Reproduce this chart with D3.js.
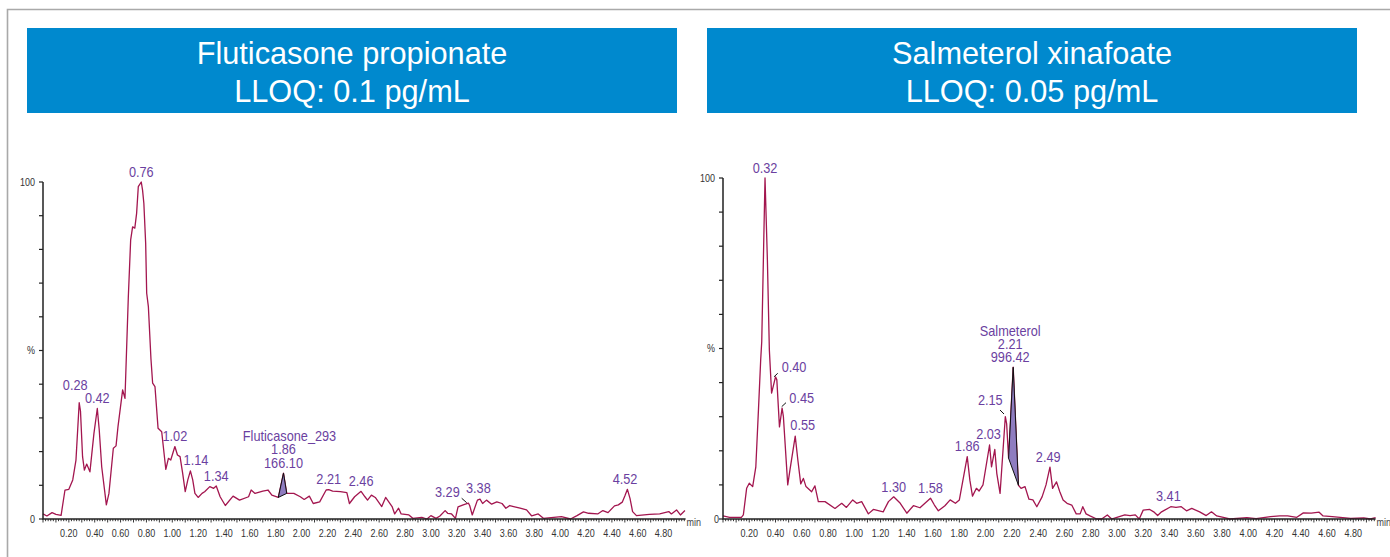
<!DOCTYPE html>
<html>
<head>
<meta charset="utf-8">
<script src="https://cdn.jsdelivr.net/npm/d3@7"></script>
<style>
  body { margin: 0; background: #fff; }
  svg { display: block; }
  text { font-family: "Liberation Sans", Arial, Helvetica, sans-serif; }
</style>
</head>
<body>
<svg id="chart" width="1390" height="557"></svg>
<script>
// ---- Chromatogram data (retention time in min, relative intensity in %) ----
const fluTimes = [0.00,0.03,0.07,0.10,0.14,0.17,0.20,0.23,0.255,0.28,0.29,0.306,0.32,0.338,0.363,0.394,0.42,0.435,0.454,0.49,0.51,0.544,0.565,0.58,0.616,0.634,0.66,0.678,0.693,0.71,0.724,0.737,0.76,0.77,0.78,0.794,0.802,0.815,0.835,0.848,0.866,0.89,0.918,0.95,0.97,0.988,1.02,1.04,1.06,1.08,1.10,1.12,1.14,1.158,1.175,1.20,1.23,1.25,1.29,1.32,1.34,1.37,1.41,1.47,1.52,1.59,1.61,1.64,1.70,1.74,1.77,1.82,1.86,1.885,1.94,1.99,2.02,2.06,2.09,2.14,2.19,2.21,2.24,2.30,2.35,2.37,2.41,2.46,2.49,2.51,2.54,2.57,2.62,2.65,2.70,2.72,2.75,2.77,2.83,2.86,2.93,2.97,3.00,3.04,3.07,3.11,3.13,3.16,3.19,3.21,3.25,3.29,3.30,3.32,3.36,3.38,3.40,3.43,3.47,3.51,3.55,3.58,3.61,3.64,3.69,3.74,3.78,3.83,3.87,3.95,4.01,4.08,4.13,4.18,4.22,4.29,4.33,4.37,4.42,4.45,4.48,4.50,4.52,4.54,4.56,4.59,4.69,4.77,4.84,4.86,4.90,4.93,4.965];
const fluPercents = [1.5,0.9,1.9,1.4,1.1,8.6,8.8,11.6,17.5,34.5,32.0,18.5,14.5,16.3,14.0,25.4,32.8,26.4,15.5,4.2,7.6,21.0,21.7,27.4,38.3,35.8,66.0,82.8,86.7,86.3,90.7,98.6,100,97.6,93.7,81.9,67.0,63.0,47.5,40.3,39.3,26.9,25.9,14.7,18.0,17.5,21.5,19.0,18.5,13.6,8.1,11.6,14.3,11.6,7.6,6.4,7.6,8.1,9.6,9.1,9.8,6.6,4.0,6.8,5.6,6.6,8.6,7.6,8.3,8.6,7.1,6.4,13.6,7.6,7.6,6.6,5.8,6.8,4.6,5.1,8.6,8.7,8.3,8.1,7.8,4.6,6.6,8.2,6.6,5.6,7.1,6.4,3.7,6.4,3.7,1.5,3.2,1.5,1.2,0.2,0.5,0.0,1.0,0.2,0.9,2.5,1.7,1.5,0.2,3.6,4.2,4.7,4.0,1.2,5.6,5.9,4.6,5.6,4.4,5.1,4.6,3.2,4.0,3.7,3.2,2.7,0.9,1.5,0.2,0.5,0.7,0.0,1.0,2.1,1.7,1.5,2.5,1.9,3.9,4.2,5.0,6.8,8.8,6.1,2.2,1.0,1.4,1.5,2.2,1.5,2.7,1.2,2.5];

const salTimes = [0.00,0.05,0.14,0.155,0.18,0.20,0.226,0.25,0.27,0.287,0.295,0.32,0.338,0.353,0.37,0.40,0.41,0.43,0.45,0.46,0.493,0.51,0.55,0.57,0.592,0.612,0.632,0.675,0.70,0.726,0.777,0.853,0.904,0.94,0.988,1.018,1.056,1.107,1.145,1.22,1.26,1.30,1.35,1.40,1.45,1.50,1.58,1.61,1.64,1.69,1.73,1.77,1.80,1.86,1.88,1.90,1.93,1.95,1.98,2.03,2.045,2.07,2.085,2.11,2.15,2.16,2.175,2.21,2.25,2.27,2.30,2.33,2.36,2.39,2.43,2.46,2.49,2.51,2.54,2.565,2.59,2.62,2.656,2.69,2.72,2.74,2.765,2.795,2.846,2.884,2.927,2.96,3.00,3.06,3.10,3.14,3.17,3.20,3.25,3.28,3.31,3.34,3.41,3.45,3.49,3.53,3.57,3.63,3.68,3.72,3.76,3.81,3.86,3.99,4.06,4.17,4.24,4.30,4.37,4.42,4.48,4.54,4.57,4.64,4.70,4.78,4.88,4.93,4.97];
const salPercents = [0.9,0.5,0.5,1.2,9.0,10.5,9.5,15.3,32.0,46.6,52.0,100,76.0,49.6,36.9,41.7,40.8,27.0,32.5,30.0,10.0,14.4,24.3,17.3,10.3,11.9,9.5,8.0,9.7,5.1,5.1,3.1,4.6,3.4,5.6,4.6,5.1,1.5,2.8,2.1,5.1,6.5,4.6,1.7,3.9,3.3,6.1,4.1,2.4,3.9,5.6,4.6,5.6,18.3,11.4,6.7,9.0,8.2,10.0,21.7,15.3,20.4,13.4,7.5,30.0,28.0,17.8,44.5,9.9,9.0,9.5,5.8,5.6,3.6,6.5,10.0,15.2,9.0,10.9,8.0,5.6,4.6,4.1,1.5,1.5,3.6,1.5,0.9,0.0,0.0,1.2,0.0,0.5,1.2,1.0,1.2,0.0,2.6,2.8,2.1,1.0,2.1,3.6,3.4,3.6,2.4,3.1,2.1,1.0,2.1,0.9,0.5,0.0,0.4,0.1,0.7,0.9,0.9,0.5,1.8,1.7,2.0,0.9,0.7,0.5,0.2,0.3,0.0,0.4];

// Peak annotations
const fluPeakTimes = [0.28, 0.42, 0.76, 1.02, 1.14, 1.34, 1.86, 2.21, 2.46, 3.29, 3.38, 4.52];
const fluPeakTexts = [["0.28"],["0.42"],["0.76"],["1.02"],["1.14"],["1.34"],["Fluticasone_293","1.86","166.10"],["2.21"],["2.46"],["3.29"],["3.38"],["4.52"]];
const salPeakTimes = [0.32, 0.40, 0.45, 0.55, 1.30, 1.58, 1.86, 2.03, 2.15, 2.21, 2.49, 3.41];
const salPeakTexts = [["0.32"],["0.40"],["0.45"],["0.55"],["1.30"],["1.58"],["1.86"],["2.03"],["2.15"],["Salmeterol","2.21","996.42"],["2.49"],["3.41"]];

// Integrated peak windows (min)
const fluIntegration = [1.82, 1.885];
const salIntegration = [2.175, 2.25];

// Axis labelling
const timeRange = [0, 4.97];
const xTickLabels = ["0.20","0.40","0.60","0.80","1.00","1.20","1.40","1.60","1.80","2.00","2.20","2.40","2.60","2.80","3.00","3.20","3.40","3.60","3.80","4.00","4.20","4.40","4.60","4.80"];
const yTickValues = [0, 50, 100];
const yTickLabels = ["0", "%", "100"];
const xUnit = "min";

const panelTitles = [
  ["Fluticasone propionate", "LLOQ: 0.1 pg/mL"],
  ["Salmeterol xinafoate", "LLOQ: 0.05 pg/mL"]
];

// ---- Layout ----
const TRACE = "#a3164f";
const LABEL = "#6b3fa0";
const AXIS = "#222";
const BOX = "#0089ce";
const SX = 0.9;                 // horizontal text condensation

const panels = [
  {
    titles: panelTitles[0], times: fluTimes, pct: fluPercents,
    peakTimes: fluPeakTimes, peakTexts: fluPeakTexts, integ: fluIntegration,
    box: { x: 27, y: 28, w: 650, h: 85 },
    plot: { x0: 43, x1: 685.6, top: 182, bottom: 519 },
    zeroGap: 8,
    nudges: {
      0: { dx: -4, dy: -12.7 },
      4: { dx: 5.6, dy: -5.8 },
      6: { dx: 0, dy: -5.5, lineDx: [6, 0, 0] },
      9: { dx: -21, dy: -6.5, leader: [-6.7, -4.9, -1.7, -0.5] },
      10: { dx: -1.7, dy: -5.8 },
      11: { dx: -2.4, dy: -5 }
    }
  },
  {
    titles: panelTitles[1], times: salTimes, pct: salPercents,
    peakTimes: salPeakTimes, peakTexts: salPeakTexts, integ: salIntegration,
    box: { x: 707, y: 28, w: 650, h: 85 },
    plot: { x0: 723, x1: 1375.6, top: 178, bottom: 519 },
    zeroGap: 4,
    nudges: {
      1: { dx: 18.5, dy: -4.5, leader: [-1.5, 0, 2.2, -3.5] },
      2: { dx: 19.6, dy: -4.9, leader: [-0.4, -1.5, 3.9, -5.5] },
      3: { dx: 7.5, dy: -6 },
      7: { dx: -1, dy: -6 },
      8: { dx: -15, dy: -11.7, leader: [-5.3, -6.7, -1.3, -2.7] },
      9: { dx: -3, dy: -5 },
      10: { dx: -1.7, dy: -5.5 },
      11: { dx: -2.4, dy: -6 }
    }
  }
];

const svg = d3.select("#chart");

function addText(g, x, y, str, o) {
  return g.append("text")
    .attr("transform", `translate(${x},${y}) scale(${o.sx || SX},1)`)
    .attr("text-anchor", o.anchor || "middle")
    .attr("font-size", o.size)
    .attr("fill", o.fill)
    .text(str);
}

// outer frame
svg.append("path")
  .attr("d", "M7.5,557 V9.5 H1390")
  .attr("fill", "none")
  .attr("stroke", "#a9a9a9")
  .attr("stroke-width", 1.6);

panels.forEach(p => {
  const g = svg.append("g");
  const { box, plot } = p;

  // title banner
  g.append("rect").attr("x", box.x).attr("y", box.y)
    .attr("width", box.w).attr("height", box.h).attr("fill", BOX);
  const cx = box.x + box.w / 2;
  addText(g, cx, box.y + 35.5, p.titles[0], { size: 32, fill: "#fff", sx: 0.96 });
  addText(g, cx, box.y + 73.8, p.titles[1], { size: 32, fill: "#fff", sx: 0.96 });

  const x = d3.scaleLinear().domain(timeRange).range([plot.x0, plot.x1]);
  const y = d3.scaleLinear().domain([0, 100]).range([plot.bottom, plot.top]);

  // trace
  const idx = d3.range(p.times.length);
  const line = d3.line().x(i => x(p.times[i])).y(i => y(p.pct[i]));
  g.append("path").attr("d", line(idx))
    .attr("fill", "none").attr("stroke", TRACE)
    .attr("stroke-width", 1.3).attr("stroke-linejoin", "round");

  // integrated peak area
  const inWin = idx.filter(i => p.times[i] >= p.integ[0] - 1e-9 && p.times[i] <= p.integ[1] + 1e-9);
  g.append("path").attr("d", line(inWin) + "Z")
    .attr("fill", "#8f7cc0").attr("stroke", "#111")
    .attr("stroke-width", 1).attr("stroke-linejoin", "round");

  // axes
  g.append("path").attr("d", `M${plot.x0},${plot.top} V${plot.bottom} H${plot.x1}`)
    .attr("fill", "none").attr("stroke", AXIS).attr("stroke-width", 1.5);

  // y ticks every 10 %
  d3.range(0, 101, 10).forEach(v => {
    g.append("line").attr("x1", plot.x0 - 4).attr("x2", plot.x0)
      .attr("y1", y(v)).attr("y2", y(v))
      .attr("stroke", AXIS).attr("stroke-width", 1.2);
  });
  yTickValues.forEach((v, i) => {
    const gap = v === 0 ? p.zeroGap : 8;
    addText(g, plot.x0 - gap, y(v) + 3.5, yTickLabels[i], { size: 10, fill: "#333", anchor: "end" });
  });

  // x minor ticks (0.02 min) and 0.1 min ticks
  d3.range(0, timeRange[1] + 1e-6, 0.02).forEach(t => {
    const major = Math.abs(t * 10 - Math.round(t * 10)) < 1e-6;
    g.append("line").attr("x1", x(t)).attr("x2", x(t))
      .attr("y1", plot.bottom).attr("y2", plot.bottom + (major ? 3.5 : 2.2))
      .attr("stroke", AXIS).attr("stroke-width", 0.9);
  });
  xTickLabels.forEach(lbl => {
    addText(g, x(+lbl), plot.bottom + 18, lbl, { size: 10, fill: "#333" });
  });
  addText(g, plot.x1 + 1, plot.bottom + 6.5, xUnit, { size: 10, fill: "#444", anchor: "start" });

  // peak labels
  p.peakTimes.forEach((t, k) => {
    const near = d3.least(idx, i => Math.abs(p.times[i] - t));
    const ax = x(t), ay = y(p.pct[near]);
    const n = p.nudges[k] || { dx: 0, dy: -5.3 };
    const lines = p.peakTexts[k];
    lines.forEach((s, j) => {
      const ldx = n.lineDx ? n.lineDx[j] : 0;
      const by = ay + n.dy - (lines.length - 1 - j) * 13.3;
      addText(g, ax + n.dx + ldx, by, s, { size: 14, fill: LABEL, sx: 0.91 });
    });
    if (n.leader) {
      g.append("line")
        .attr("x1", ax + n.leader[0]).attr("y1", ay + n.leader[1])
        .attr("x2", ax + n.leader[2]).attr("y2", ay + n.leader[3])
        .attr("stroke", "#111").attr("stroke-width", 1);
    }
  });
});
</script>
</body>
</html>
